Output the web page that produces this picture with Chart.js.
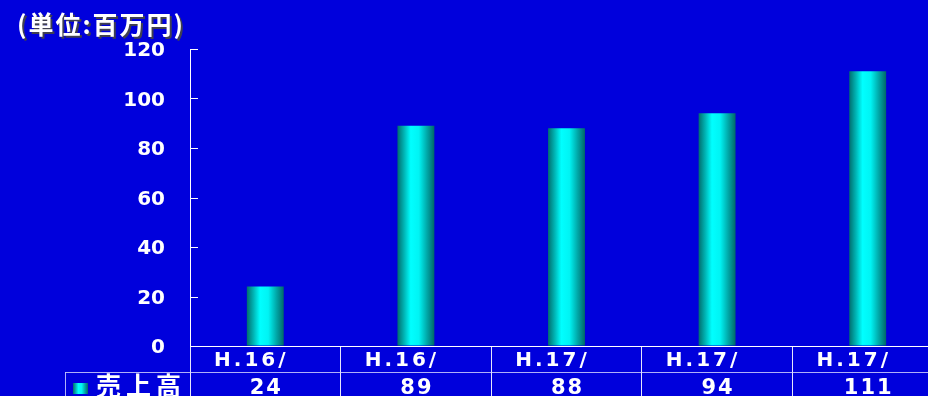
<!DOCTYPE html>
<html>
<head>
<meta charset="utf-8">
<script src="https://cdn.jsdelivr.net/npm/chart.js@4.4.1/dist/chart.umd.min.js"></script>
<style>
  html, body { margin: 0; padding: 0; background: #0000dc; overflow: hidden; }
  #wrap { width: 943px; height: 396px; }
</style>
</head>
<body>
<div id="wrap"><canvas id="chart-sales" width="943" height="396"></canvas></div>
<script>
const periods = ['H.16/', 'H.16/', 'H.17/', 'H.17/', 'H.17/'];
const sales = [24, 89, 88, 94, 111];
const seriesName = '売上高';
const unitLabel = '(単位:百万円)';
const yTicks = [0, 20, 40, 60, 80, 100, 120];

const BG = '#0000dc';
const LINE = 'rgba(255,255,255,0.9)';
const FONT_NUM = '"DejaVu Sans", sans-serif';
const FONT_JP = '"Noto Sans CJK JP", sans-serif';
const BAR_PCT = 0.245;

// cylinder-like shading across a bar
function cylinder(ctx, x0, x1) {
    const g = ctx.createLinearGradient(x0, 0, x1, 0);
    g.addColorStop(0, '#006e6e');
    g.addColorStop(0.18, '#00b4b4');
    g.addColorStop(0.36, '#00ffff');
    g.addColorStop(0.58, '#00f4f4');
    g.addColorStop(0.8, '#00a8a8');
    g.addColorStop(1, '#006868');
    return g;
}

function barFill(context) {
    const chart = context.chart;
    const xs = chart.scales.x;
    if (!xs || !chart.chartArea) return '#00ffff';
    const cx = xs.getPixelForValue(context.dataIndex);
    const half = (xs.width / periods.length) * BAR_PCT / 2;
    return cylinder(chart.ctx, cx - half, cx + half);
}

// title, inner y ticks, category row, legend key and values
const tablePlugin = {
    id: 'tablePlugin',
    beforeDraw(chart) {
        const c = chart.ctx;
        c.save();
        c.fillStyle = BG;
        c.fillRect(0, 0, chart.width, chart.height);
        c.restore();
    },
    afterDraw(chart) {
        const c = chart.ctx;
        const xs = chart.scales.x;
        const ys = chart.scales.y;
        const rowY = 372.5;
        c.save();

        // tick marks pointing into the plot
        c.strokeStyle = '#ffffff';
        c.lineWidth = 1;
        c.beginPath();
        yTicks.forEach(v => {
            const y = Math.round(ys.getPixelForValue(v)) + 0.5;
            c.moveTo(ys.right, y);
            c.lineTo(ys.right + 8, y);
        });
        c.stroke();

        // title
        c.font = 'bold 25px ' + FONT_JP;
        c.letterSpacing = '2px';
        c.textBaseline = 'middle';
        c.textAlign = 'left';
        c.fillStyle = '#404050';
        c.fillText(unitLabel, 19, 26);
        c.fillStyle = '#ffffff';
        c.fillText(unitLabel, 17, 24);

        // row divider and left edge of the data row
        c.strokeStyle = 'rgba(220,220,255,0.8)';
        c.beginPath();
        c.moveTo(65, rowY);
        c.lineTo(chart.width, rowY);
        c.moveTo(65.5, rowY);
        c.lineTo(65.5, chart.height);
        c.stroke();

        // legend key
        c.fillStyle = cylinder(c, 73, 88);
        c.fillRect(73, 383, 15, 11);
        c.letterSpacing = '5px';
        c.font = 'bold 25px ' + FONT_JP;
        c.fillStyle = '#ffffff';
        c.textBaseline = 'top';
        c.fillText(seriesName, 96, 373);

        // category labels (sit a little left of the column centre)
        c.textAlign = 'center';
        c.letterSpacing = '3px';
        c.font = 'bold 20px ' + FONT_NUM;
        periods.forEach((p, i) => {
            c.fillText(p, xs.getPixelForTick(i) - 14, 351);
        });

        // values
        c.letterSpacing = '2px';
        c.font = 'bold 21px ' + FONT_NUM;
        sales.forEach((v, i) => {
            c.fillText(String(v), xs.getPixelForTick(i) + 1, 378);
        });
        c.restore();
    }
};

new Chart(document.getElementById('chart-sales'), {
    type: 'bar',
    data: {
        labels: periods,
        datasets: [{
            label: seriesName,
            data: sales,
            backgroundColor: barFill,
            borderWidth: 0,
            barPercentage: BAR_PCT,
            categoryPercentage: 1
        }]
    },
    options: {
        responsive: false,
        animation: false,
        devicePixelRatio: 1,
        layout: { padding: { top: 49, left: 0, right: 0, bottom: 0 } },
        plugins: {
            legend: { display: false },
            title: { display: false },
            tooltip: { enabled: false }
        },
        scales: {
            x: {
                afterFit: s => { s.height = 50; },
                grid: {
                    offset: true,
                    drawOnChartArea: false,
                    color: LINE,
                    tickLength: 50
                },
                border: { color: '#ffffff', width: 1 },
                ticks: { display: false }
            },
            y: {
                min: 0,
                max: 120,
                afterFit: s => { s.width = 190; },
                afterBuildTicks: s => { s.ticks = yTicks.map(v => ({ value: v })); },
                grid: {
                    drawOnChartArea: false,
                    drawTicks: false
                },
                border: { color: '#ffffff', width: 1 },
                ticks: {
                    color: '#ffffff',
                    padding: 25,
                    labelOffset: 2,
                    font: { family: FONT_NUM, size: 20, weight: 'bold' }
                }
            }
        }
    },
    plugins: [tablePlugin]
});
</script>
</body>
</html>
